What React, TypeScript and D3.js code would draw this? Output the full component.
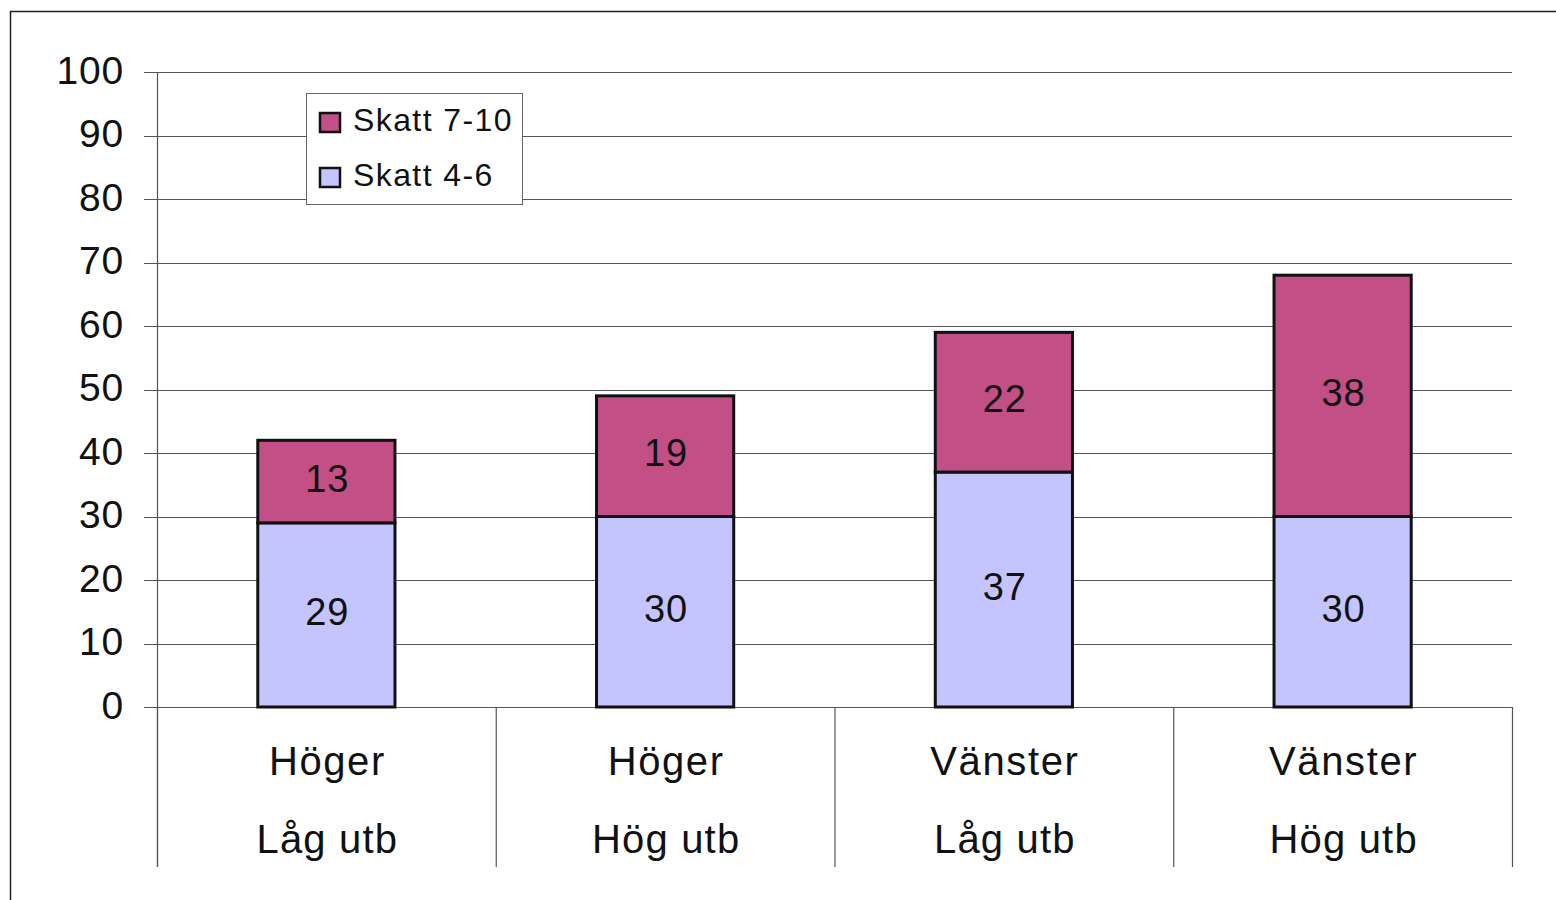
import React from "react";
import * as d3 from "d3";

const categoryLine1 = ["Höger", "Höger", "Vänster", "Vänster"];
const categoryLine2 = ["Låg utb", "Hög utb", "Låg utb", "Hög utb"];
const skatt46 = [29, 30, 37, 30];
const skatt710 = [13, 19, 22, 38];
const seriesNames = ["Skatt 7-10", "Skatt 4-6"];
const yTicks = [0, 10, 20, 30, 40, 50, 60, 70, 80, 90, 100];

const W = 1556;
const H = 900;
const FONT = "'Liberation Sans', Arial, sans-serif";
const C_TOP = "#C24F86";
const C_BOT = "#C4C4FE";

export default function App() {
  const x = d3.scaleBand<number>().domain(d3.range(categoryLine1.length)).range([157, 1512]).padding(0);
  const y = d3.scaleLinear().domain([0, 100]).range([707, 72]);
  const bw = x.bandwidth() * 0.405;

  const legendX = 306, legendY = 93, legendW = 216, legendH = 111;

  return (
    <svg width={W} height={H} style={{ position: "absolute", left: 0, top: 0, background: "#fff" }} fontFamily={FONT}>
      <rect x={0} y={0} width={W} height={H} fill="#fff" />
      {/* outer frame */}
      <line x1={10} y1={11.5} x2={W} y2={11.5} stroke="#222" strokeWidth={1.5} />
      <line x1={10.5} y1={11} x2={10.5} y2={H} stroke="#222" strokeWidth={1.5} />

      {/* gridlines + ticks */}
      {yTicks.map((t) => (
        <g key={t}>
          <line x1={144} x2={1512} y1={Math.round(y(t)) + 0.5} y2={Math.round(y(t)) + 0.5} stroke="#555" strokeWidth={1.2} />
          <text x={124} y={y(t)} dy="0.3em" textAnchor="end" fontSize={39} fill="#111" letterSpacing={0.8}>
            {t}
          </text>
        </g>
      ))}
      {/* axis line + category separators */}
      <line x1={157.5} x2={157.5} y1={72} y2={867} stroke="#555" strokeWidth={1.2} />
      {d3.range(categoryLine1.length + 1).map((i) => {
        const xx = i < categoryLine1.length ? (x(i) as number) : 1512;
        return <line key={i} x1={xx + 0.5} x2={xx + 0.5} y1={707} y2={867} stroke="#555" strokeWidth={1.2} />;
      })}

      {/* bars */}
      {skatt46.map((v, i) => {
        const cx = (x(i) as number) + x.bandwidth() / 2;
        const top = skatt710[i];
        return (
          <g key={i}>
            <rect x={cx - bw / 2} y={y(v)} width={bw} height={y(0) - y(v)} fill={C_BOT} stroke="#111" strokeWidth={3} />
            <rect x={cx - bw / 2} y={y(v + top)} width={bw} height={y(v) - y(v + top)} fill={C_TOP} stroke="#111" strokeWidth={3} />
            <text x={cx + 1} y={y(v / 2)} dy="0.27em" textAnchor="middle" fontSize={38} fill="#111" letterSpacing={1}>{v}</text>
            <text x={cx + 1} y={y(v + top / 2)} dy="0.27em" textAnchor="middle" fontSize={38} fill="#111" letterSpacing={1}>{top}</text>
            <text x={cx + 1} y={775} textAnchor="middle" fontSize={40} fill="#111" letterSpacing={1.6}>{categoryLine1[i]}</text>
            <text x={cx + 1} y={853} textAnchor="middle" fontSize={40} fill="#111" letterSpacing={1.2}>{categoryLine2[i]}</text>
          </g>
        );
      })}

      {/* legend */}
      <rect x={legendX + 0.5} y={legendY + 0.5} width={legendW} height={legendH} fill="#fff" stroke="#666" strokeWidth={1} />
      {seriesNames.map((s, i) => (
        <g key={s}>
          <rect x={320} y={113 + i * 55} width={20} height={19} fill={i === 0 ? C_TOP : C_BOT} stroke="#111" strokeWidth={2.5} />
          <text x={353} y={120 + i * 55} dy="0.35em" fontSize={32} fill="#111" letterSpacing={1.4}>{s}</text>
        </g>
      ))}
    </svg>
  );
}
